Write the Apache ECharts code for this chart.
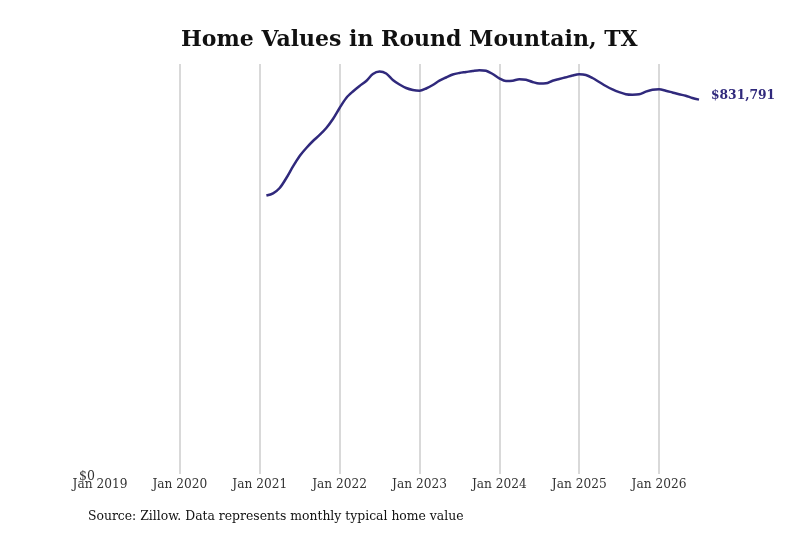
<!DOCTYPE html>
<html>
<head>
<meta charset="utf-8">
<title>Home Values in Round Mountain, TX</title>
<script src="https://cdn.jsdelivr.net/npm/echarts@6/dist/echarts.min.js"></script>
<style>
    html, body { margin: 0; padding: 0; background: #fff; }
    #chart { width: 800px; height: 533px; }
</style>
</head>
<body>
<div id="chart"></div>
<script>
// monthly typical home value
var months = [
    '2021-02', '2021-03', '2021-04', '2021-05', '2021-06', '2021-07', '2021-08', '2021-09', '2021-10', '2021-11', '2021-12',
    '2022-01', '2022-02', '2022-03', '2022-04', '2022-05', '2022-06', '2022-07', '2022-08', '2022-09', '2022-10', '2022-11', '2022-12',
    '2023-01', '2023-02', '2023-03', '2023-04', '2023-05', '2023-06', '2023-07', '2023-08', '2023-09', '2023-10', '2023-11', '2023-12',
    '2024-01', '2024-02', '2024-03', '2024-04', '2024-05', '2024-06', '2024-07', '2024-08', '2024-09', '2024-10', '2024-11', '2024-12',
    '2025-01', '2025-02', '2025-03', '2025-04', '2025-05', '2025-06', '2025-07', '2025-08', '2025-09', '2025-10', '2025-11', '2025-12',
    '2026-01', '2026-02', '2026-03', '2026-04', '2026-05', '2026-06', '2026-07'
];
var homeValues = [
    618800, 623700, 635500, 657700, 683300, 706600, 724400, 739900, 753300, 768800, 788800,
    813300, 835500, 849900, 862100, 873200, 888800, 894400, 889900, 875500, 865500, 857700, 853200,
    851700, 856600, 864400, 873900, 881000, 887700, 891000, 893200, 895500, 897200, 896100, 888800,
    879200, 873200, 873900, 877000, 875900, 871000, 867700, 868100, 873900, 877700, 881500, 885500,
    888100, 886600, 879900, 871000, 862100, 854400, 848400, 843900, 842800, 843700, 849500, 853700,
    854800, 851700, 847700, 843700, 840600, 835500, 831791
];
var startYear = 2019;
var yearTicks = ['Jan 2019', 'Jan 2020', 'Jan 2021', 'Jan 2022', 'Jan 2023', 'Jan 2024', 'Jan 2025', 'Jan 2026'];

var serif = '"DejaVu Serif", "Liberation Serif", serif';
var lineColor = '#30297c';

// months since Jan 2019 -> x position on a value axis
function monthIndex(s) {
    var p = s.split('-');
    return (parseInt(p[0]) - startYear) * 12 + parseInt(p[1]) - 1;
}

var points = [];
for (var i = 0; i < months.length; i++) {
    points.push([monthIndex(months[i]), homeValues[i]]);
}

function money(v) {
    return '$' + Math.round(v).toString().replace(/\B(?=(\d{3})+(?!\d))/g, ',');
}

var chart = echarts.init(document.getElementById('chart'));
chart.setOption({
    animation: false,
    title: {
        text: 'Home Values in Round Mountain, TX',
        left: 176,
        top: 24,
        textStyle: { fontFamily: serif, fontWeight: 'bold', fontSize: 22, color: '#111' }
    },
    grid: { left: 100, right: 101, top: 64, bottom: 59 },
    xAxis: {
        type: 'value',
        min: 0,
        max: monthIndex(months[months.length - 1]),
        interval: 12,
        axisLine: { show: false },
        axisTick: { show: false },
        splitLine: { show: true, showMinLine: false, showMaxLine: false, lineStyle: { color: '#cccccc', width: 1.5 } },
        axisLabel: {
            margin: 5,
            fontFamily: serif,
            fontSize: 12.2,
            color: '#333',
            showMaxLabel: false,
            formatter: function (v) { return yearTicks[v / 12] || ''; }
        }
    },
    yAxis: {
        type: 'value',
        min: 0,
        max: 911000,
        interval: 911000,
        axisLine: { show: false },
        axisTick: { show: false },
        splitLine: { show: false },
        axisLabel: {
            margin: 5,
            fontFamily: serif,
            fontSize: 12.5,
            color: '#333',
            verticalAlign: 'top',
            padding: [-4, 0, 0, 0],
            showMaxLabel: false,
            formatter: function (v) { return v === 0 ? '$0' : ''; }
        }
    },
    series: [{
        type: 'line',
        data: points,
        showSymbol: false,
        smooth: 0.3,
        lineStyle: { color: lineColor, width: 2.5 },
        endLabel: {
            show: true,
            distance: 12,
            offset: [0, -4],
            fontFamily: serif,
            fontWeight: 'bold',
            fontSize: 12.3,
            color: lineColor,
            formatter: function (p) { return money(p.value[1]); }
        }
    }],
    graphic: [{
        type: 'text',
        left: 88,
        top: 511,
        style: {
            text: 'Source: Zillow. Data represents monthly typical home value',
            font: '12.4px ' + serif,
            fill: '#111'
        }
    }]
});
</script>
</body>
</html>
